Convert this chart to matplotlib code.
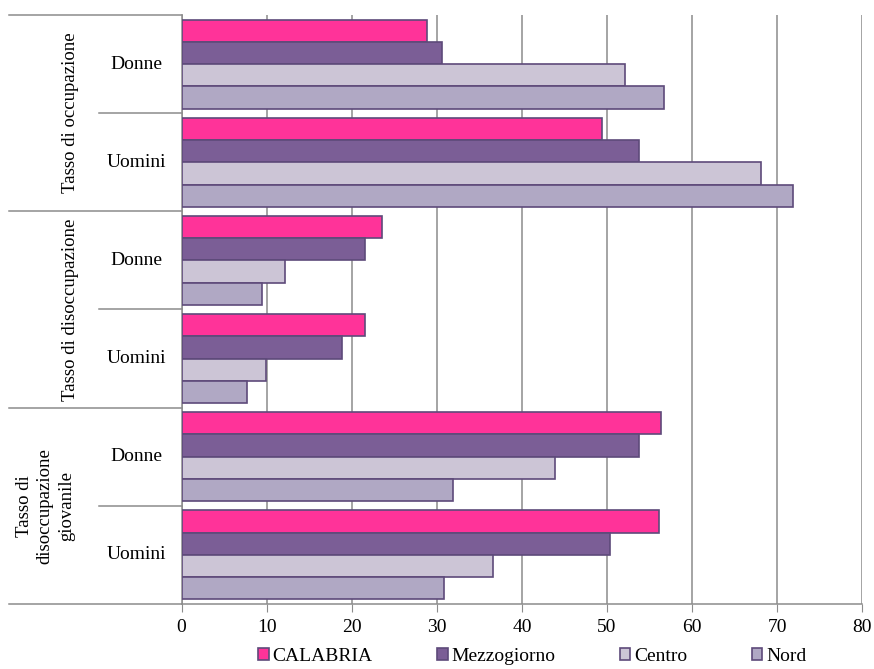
import numpy as np
import matplotlib
matplotlib.use("Agg")
from matplotlib import pyplot as plt
from matplotlib.patches import Patch

plt.rcParams['font.family'] = ['Liberation Serif', 'DejaVu Serif']

# Categories, top to bottom
groups = ['Tasso di occupazione', 'Tasso di disoccupazione',
          'Tasso di\ndisoccupazione\ngiovanile']
subs = ['Donne', 'Uomini']
series = ['CALABRIA', 'Mezzogiorno', 'Centro', 'Nord']

# values per category (Occ D, Occ U, Dis D, Dis U, Giov D, Giov U)
calabria = [28.8, 49.4, 23.6, 21.5, 56.3, 56.1]
mezzogiorno = [30.6, 53.8, 21.5, 18.8, 53.8, 50.3]
centro = [52.1, 68.1, 12.2, 9.9, 43.9, 36.6]
nord = [56.7, 71.8, 9.5, 7.7, 31.9, 30.8]

colors = ['#FF3399', '#7B5E96', '#CCC5D6', '#B0A8C4']
edge = '#5E4A7A'
grid_col = '#8C8C8C'

fig = plt.figure(figsize=(8.74, 6.69), dpi=100)
ax = fig.add_axes([0.2077, 0.0972, 0.7790, 0.8804])

y = np.arange(6)
w = 0.227
for i, vals in enumerate([calabria, mezzogiorno, centro, nord]):
    ax.barh(y + (i - 1.5) * w, vals, height=w, color=colors[i],
            edgecolor=edge, linewidth=1.2, zorder=3, label=series[i])

ax.set_xlim(0, 80)
ax.set_ylim(5.5, -0.5)
ax.set_xticks(range(0, 81, 10))
ax.xaxis.grid(True, color=grid_col, linewidth=1.1, zorder=0)
ax.set_yticks([])
for s in ['top', 'right']:
    ax.spines[s].set_visible(False)
for s in ['left', 'bottom']:
    ax.spines[s].set_color(grid_col)
    ax.spines[s].set_linewidth(1.1)
ax.tick_params(axis='x', direction='out', length=6, color=grid_col,
               labelsize=14, pad=5)

# multi-level category axis on the left
tr = ax.get_yaxis_transform()
for b in [-0.5, 1.5, 3.5, 5.5]:
    ax.plot([-0.254, 0], [b, b], color=grid_col, lw=1.1, transform=tr, clip_on=False)
for b in [0.5, 2.5, 4.5]:
    ax.plot([-0.121, 0], [b, b], color=grid_col, lw=1.1, transform=tr, clip_on=False)

for k in range(6):
    ax.text(-0.067, k, subs[k % 2], transform=tr, ha='center', va='center',
            fontsize=14)
group_x = [-0.163, -0.163, -0.2]
for g in range(3):
    ax.text(group_x[g], 2 * g + 0.5, groups[g], transform=tr, rotation=90,
            ha='center', va='center', fontsize=13.5, linespacing=1.3)

handles = [Patch(facecolor=colors[i], edgecolor=edge, linewidth=1.2)
           for i in range(4)]
fig.legend(handles, series, loc='center', bbox_to_anchor=(0.609, 0.019),
           ncol=4, frameon=False, fontsize=14, handlelength=0.55,
           handleheight=0.55, handletextpad=0.2, columnspacing=3.3)

fig.savefig('out.png', dpi=100)
